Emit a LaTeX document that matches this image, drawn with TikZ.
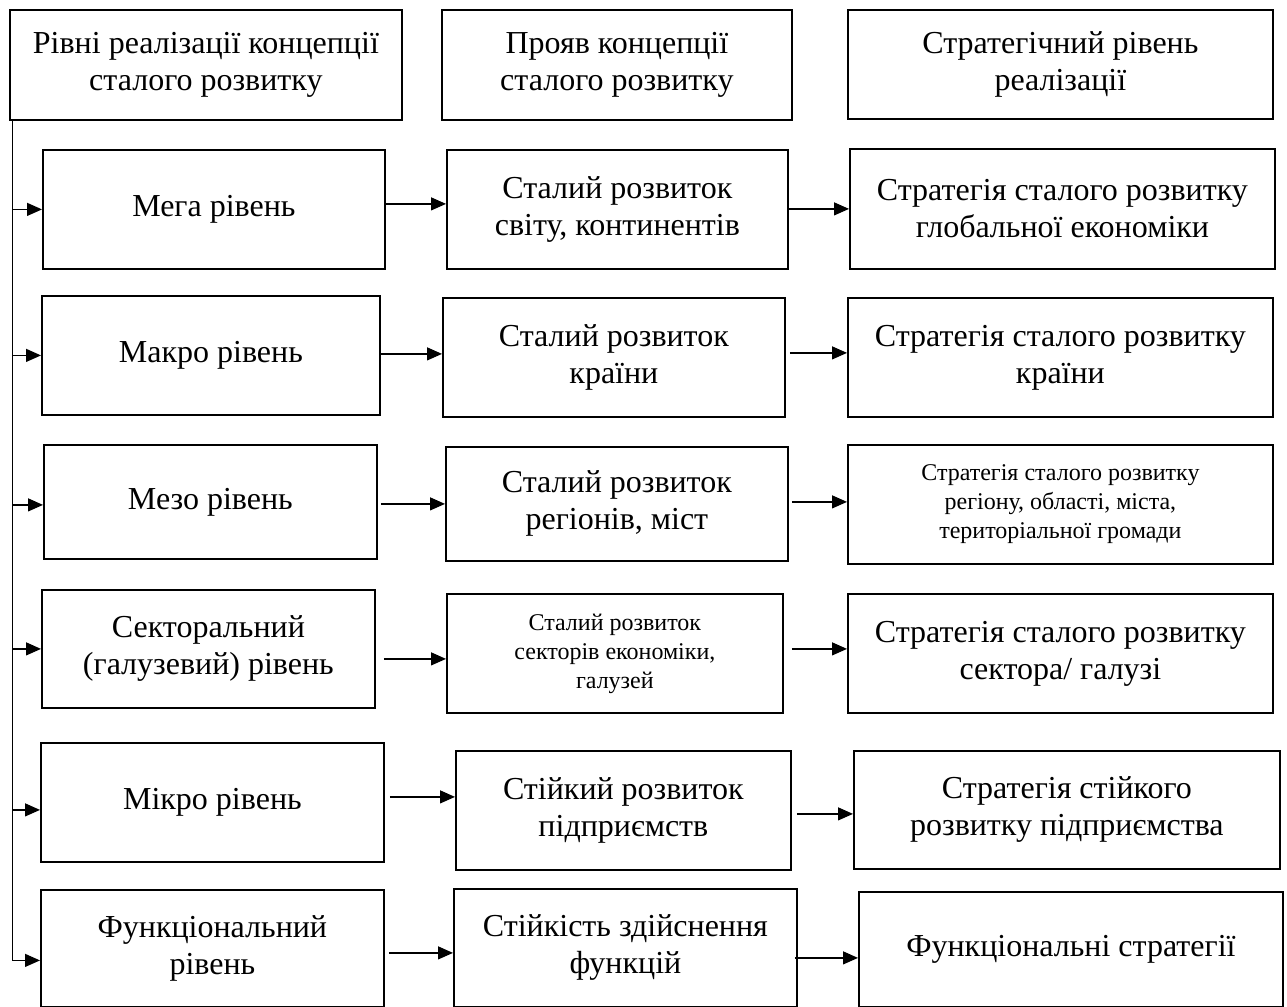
\documentclass[tikz,border=0pt]{standalone}
\usepackage{fontspec}
\setmainfont{Liberation Serif}
\usetikzlibrary{arrows.meta}

\begin{document}
\begin{tikzpicture}[
  x=0.5pt,y=-0.5pt,
  box/.style={draw,line width=0.9pt,align=center,anchor=north west,
              inner sep=2pt,font=\fontsize{16}{18.5}\selectfont},
  small/.style={font=\fontsize{12}{14.5}\selectfont},
  flow/.style={-{Triangle[length=7.5pt,width=6.5pt]},line width=0.6pt},
  trunk/.style={line width=0.5pt}
]
\useasboundingbox (0,0) rectangle (1287,1007);

% header row
\node[box,minimum width=196pt,minimum height=55pt] (hlev) at (9,9)
  {Рівні реалізації концепції\\сталого розвитку};
\node[box,minimum width=175pt,minimum height=55pt] (hman) at (441,9)
  {Прояв концепції\\сталого розвитку};
\node[box,minimum width=212.5pt,minimum height=54.5pt] (hstr) at (847,9)
  {Стратегічний рівень\\реалізації};

% levels
\node[box,minimum width=171pt,minimum height=59.5pt] (mega) at (42,149) {Мега рівень};
\node[box,minimum width=169pt,minimum height=59.5pt] (makro) at (41,295) {Макро рівень};
\node[box,minimum width=166.5pt,minimum height=57pt] (mezo) at (43,444) {Мезо рівень};
\node[box,minimum width=166.5pt,minimum height=59pt] (sector) at (41,589)
  {Секторальний\\(галузевий) рівень};
\node[box,minimum width=171.5pt,minimum height=59.5pt] (mikro) at (40,742) {Мікро рівень};
\node[box,minimum width=171.5pt,minimum height=58.5pt] (func) at (40,889)
  {Функціональний\\рівень};

% manifestation
\node[box,minimum width=170.5pt,minimum height=59.5pt] (megamid) at (446,149)
  {Сталий розвиток\\світу, континентів};
\node[box,minimum width=171pt,minimum height=59.5pt] (makromid) at (442,297)
  {Сталий розвиток\\країни};
\node[box,minimum width=171pt,minimum height=57pt] (mezomid) at (445,446)
  {Сталий розвиток\\регіонів, міст};
\node[box,small,minimum width=168pt,minimum height=59.5pt] (sectormid) at (446,593)
  {Сталий розвиток\\секторів економіки,\\галузей};
\node[box,minimum width=167.5pt,minimum height=59.5pt] (mikromid) at (455,750)
  {Стійкий розвиток\\підприємств};
\node[box,minimum width=171.5pt,minimum height=59pt] (funcmid) at (453,888)
  {Стійкість здійснення\\функцій};

% strategies
\node[box,minimum width=212.5pt,minimum height=60pt] (megastr) at (849,148)
  {Стратегія сталого розвитку\\глобальної економіки};
\node[box,minimum width=212.5pt,minimum height=59.5pt] (makrostr) at (847,297)
  {Стратегія сталого розвитку\\країни};
\node[box,small,minimum width=212.5pt,minimum height=59.5pt] (mezostr) at (847,444)
  {Стратегія сталого розвитку\\регіону, області, міста,\\територіальної громади};
\node[box,minimum width=212.5pt,minimum height=59.5pt] (sectorstr) at (847,593)
  {Стратегія сталого розвитку\\сектора/ галузі};
\node[box,minimum width=213pt,minimum height=59pt] (mikrostr) at (853,750)
  {Стратегія стійкого\\розвитку підприємства};
\node[box,minimum width=212pt,minimum height=57.5pt] (funcstr) at (858,891)
  {Функціональні стратегії};

% trunk on the left
\coordinate (trunktop) at ([xshift=1.5pt]hlev.south west);
\coordinate (trunkend) at ([yshift=-6pt]func.west -| trunktop);
\draw[trunk] (trunktop) -- (trunkend);
\draw[flow] (trunktop |- mega.west) -- (mega.west);
\draw[flow] (trunktop |- makro.west) -- (makro.west);
\draw[flow] ([yshift=-1.5pt]mezo.west -| trunktop) -- ([yshift=-1.5pt]mezo.west);
\draw[flow] (trunktop |- sector.west) -- (sector.west);
\draw[flow] ([yshift=-3.75pt]mikro.west -| trunktop) -- ([yshift=-3.75pt]mikro.west);
\draw[flow] (trunkend) -- ([yshift=-6pt]func.west);

% levels to manifestation
\draw[flow] ([yshift=2.75pt]megamid.west -| mega.east) -- ([yshift=2.75pt]megamid.west);
\draw[flow] ([yshift=1.75pt]makromid.west -| makro.east) -- ([yshift=1.75pt]makromid.west);
\draw[flow] ([xshift=1.5pt]mezomid.west -| mezo.east) -- (mezomid.west);
\draw[flow] ([xshift=4pt,yshift=-2.75pt]sectormid.west -| sector.east) -- ([yshift=-2.75pt]sectormid.west);
\draw[flow] ([xshift=2.5pt,yshift=6.75pt]mikromid.west -| mikro.east) -- ([yshift=6.75pt]mikromid.west);
\draw[flow] ([xshift=2pt,yshift=-2.5pt]funcmid.west -| func.east) -- ([yshift=-2.5pt]funcmid.west);

% manifestation to strategies
\draw[flow] (megastr.west -| megamid.east) -- (megastr.west);
\draw[flow] ([xshift=2pt,yshift=2.25pt]makrostr.west -| makromid.east) -- ([yshift=2.25pt]makrostr.west);
\draw[flow] ([xshift=1.5pt,yshift=1.25pt]mezostr.west -| mezomid.east) -- ([yshift=1.25pt]mezostr.west);
\draw[flow] ([xshift=4pt,yshift=2.25pt]sectorstr.west -| sectormid.east) -- ([yshift=2.25pt]sectorstr.west);
\draw[flow] ([xshift=2.5pt,yshift=-2pt]mikrostr.west -| mikromid.east) -- ([yshift=-2pt]mikrostr.west);
\draw[flow] ([xshift=-1.5pt,yshift=-4.25pt]funcstr.west -| funcmid.east) -- ([yshift=-4.25pt]funcstr.west);
\end{tikzpicture}
\end{document}
